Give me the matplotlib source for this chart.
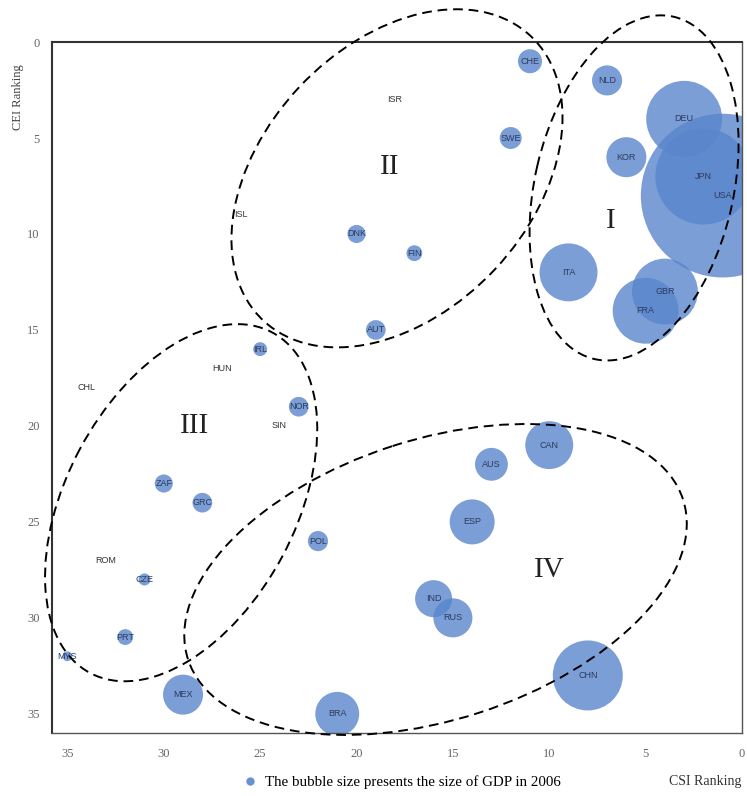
#!/usr/bin/env python3
"""
CSI vs CEI ranking bubble chart (bubble area = GDP 2006)
"""

import matplotlib
matplotlib.use('Agg')
import matplotlib.pyplot as plt
from matplotlib.patches import Ellipse
from matplotlib.lines import Line2D
import numpy as np

# Data
countries = ['CHE', 'NLD', 'ISR', 'DEU', 'SWE', 'KOR', 'JPN', 'USA', 'ISL', 'DNK',
             'FIN', 'ITA', 'GBR', 'FRA', 'AUT', 'IRL', 'HUN', 'CHL', 'NOR', 'SIN',
             'CAN', 'AUS', 'ZAF', 'GRC', 'ESP', 'POL', 'ROM', 'CZE', 'IND', 'RUS',
             'PRT', 'MYS', 'CHN', 'MEX', 'BRA']
csi_rank = [11, 7, 18, 3, 12, 6, 2, 1, 26, 20,
            17, 9, 4, 5, 19, 25, 27, 34, 23, 24,
            10, 13, 30, 28, 14, 22, 33, 31, 16, 15,
            32, 35, 8, 29, 21]
cei_rank = [1, 2, 3, 4, 5, 6, 7, 8, 9, 10,
            11, 12, 13, 14, 15, 16, 17, 18, 19, 20,
            21, 22, 23, 24, 25, 26, 27, 28, 29, 30,
            31, 32, 33, 34, 35]
# bubble size (GDP 2006, approx. bn USD)
gdp = [300, 470, 0, 2990, 250, 830, 4800, 13900, 0, 170,
       130, 1740, 2250, 2250, 200, 100, 0, 0, 200, 0,
       1190, 560, 170, 200, 1050, 210, 0, 75, 710, 790,
       130, 50, 2540, 830, 1000]

# Cluster outlines (dashed ellipses) and their roman-numeral labels
cluster_names = ['I', 'II', 'III', 'IV']
cluster_cx = [5.6, 17.9, 29.1, 15.9]
cluster_cy = [7.6, 7.1, 24.0, 28.0]
cluster_w = [18.3, 20.3, 20.1, 27.0]
cluster_h = [10.3, 13.9, 11.9, 14.6]
cluster_angle = [77, 47, 62, 18]
cluster_lx = [6.8, 18.3, 28.4, 10.0]
cluster_ly = [9.3, 6.5, 20.0, 27.5]

xticks = [35, 30, 25, 20, 15, 10, 5, 0]
yticks = [0, 5, 10, 15, 20, 25, 30, 35]

serif = ['Liberation Serif', 'DejaVu Serif']

fig = plt.figure(figsize=(7.47, 7.96), dpi=100)
ax = fig.add_axes([0.0696, 0.0791, 0.9237, 0.8681])

bubble_color = '#5a86cc'
order = np.argsort(gdp)[::-1]
for i in order:
    if gdp[i] > 0:
        ax.scatter(csi_rank[i], cei_rank[i], s=gdp[i], color=bubble_color,
                   alpha=0.8, edgecolors='none', zorder=2)
    txt_color = '#2b3a5c' if gdp[i] > 0 else '#333333'
    ax.text(csi_rank[i], cei_rank[i], countries[i], fontsize=6.5,
            family=['Liberation Sans', 'DejaVu Sans'], color=txt_color,
            ha='center', va='center', zorder=4)

for k in range(len(cluster_names)):
    e = Ellipse((cluster_cx[k], cluster_cy[k]), cluster_w[k], cluster_h[k],
                angle=cluster_angle[k], fill=False, edgecolor='black',
                linestyle=(0, (5, 3)), linewidth=1.4, clip_on=False, zorder=5)
    ax.add_patch(e)
    ax.text(cluster_lx[k], cluster_ly[k], cluster_names[k], fontsize=21,
            family=serif, ha='center', va='center', color='#222222', zorder=5)

ax.set_xlim(35.8, 0)
ax.set_ylim(36, 0)
ax.set_xticks(xticks)
ax.set_yticks(yticks)
ax.tick_params(length=0, labelsize=9, labelcolor='#666666')
ax.tick_params(axis='x', pad=11)
ax.tick_params(axis='y', pad=9)
for lab in ax.get_xticklabels() + ax.get_yticklabels():
    lab.set_family(serif)
for side in ['top', 'left']:
    ax.spines[side].set_linewidth(1.5)
    ax.spines[side].set_color('#333333')
for side in ['bottom', 'right']:
    ax.spines[side].set_linewidth(1.0)
    ax.spines[side].set_color('#555555')

fig.text(18 / 747, 1 - 97 / 796, 'CEI Ranking', rotation=90, fontsize=9,
         family=serif, color='#444444', ha='center', va='center')
fig.text(705 / 747, 1 - 782 / 796, 'CSI Ranking', fontsize=10,
         family=serif, color='#333333', ha='center', va='center')

handle = Line2D([], [], marker='o', linestyle='none', markersize=6,
                markerfacecolor=bubble_color, markeredgecolor='none', alpha=0.9)
fig.legend([handle], ['The bubble size presents the size of GDP in 2006'],
           loc='center', bbox_to_anchor=(402 / 747, 1 - 782 / 796),
           frameon=False, handletextpad=0.5, handlelength=1.0,
           prop={'family': serif, 'size': 10.8})

plt.savefig('out.png', dpi=100)
print("Saved: out.png")
